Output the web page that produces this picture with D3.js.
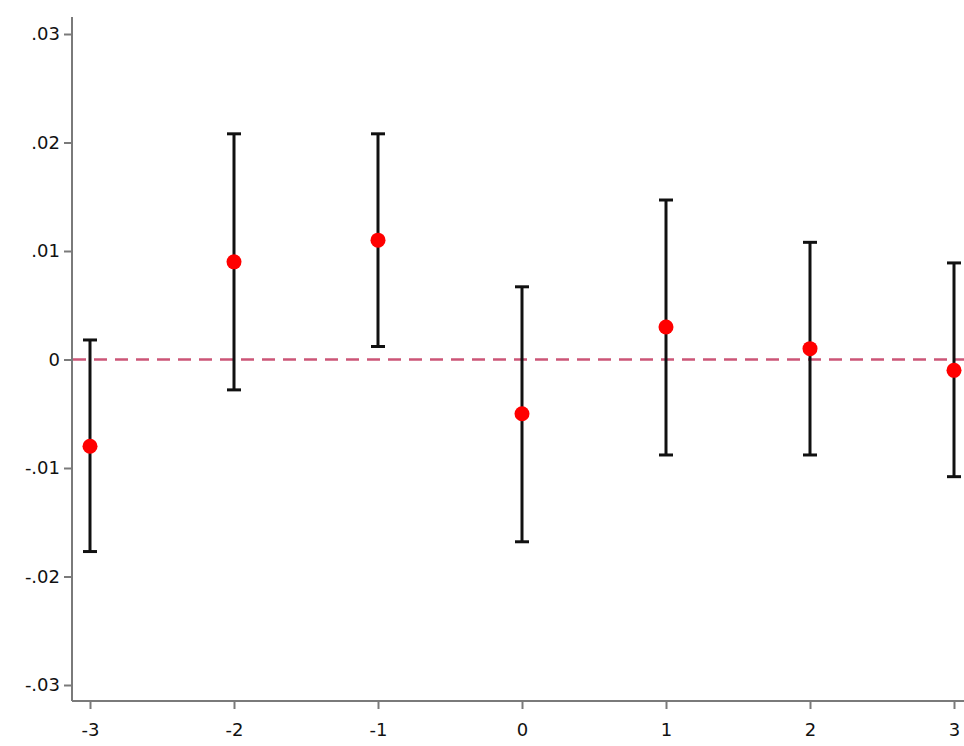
<!DOCTYPE html>
<html lang="en">
<head>
  <meta charset="UTF-8">
  <script src="https://d3js.org/d3.v7.min.js"></script>
  <style>
    body { margin: 0; background: #fff; font-family: Tahoma, "DejaVu Sans", sans-serif; }
  </style>
</head>
<body>
<svg width="964" height="746"></svg>
<script>
  const periods = [-3, -2, -1, 0, 1, 2, 3];
  const estimates = [-0.008, 0.009, 0.011, -0.005, 0.003, 0.001, -0.001];
  const upper = [0.0018, 0.0208, 0.0208, 0.0067, 0.0147, 0.0108, 0.0089];
  const lower = [-0.0177, -0.0028, 0.0012, -0.0168, -0.0088, -0.0088, -0.0108];
  const yTicks = [-0.03, -0.02, -0.01, 0, 0.01, 0.02, 0.03];

  const svg = d3.select("svg");
  const x = d3.scaleLinear().domain([-3, 3]).range([90, 954]);
  const y = d3.scaleLinear().domain([-0.03, 0.03]).range([685, 34]);
  const axisColor = "#7a7a7a";
  const fmt = v => v === 0 ? "0" : v.toFixed(2).replace("0.", ".");

  // axes
  const yAxis = svg.append("g").attr("transform", "translate(72,0)")
    .call(d3.axisLeft(y).tickValues(yTicks).tickFormat(fmt).tickSize(8).tickSizeOuter(0));
  yAxis.select(".domain").attr("d", "M0,17V701");
  const xAxis = svg.append("g").attr("transform", "translate(0,701)")
    .call(d3.axisBottom(x).tickValues(periods).tickFormat(v => String(v)).tickSize(8).tickSizeOuter(0));
  xAxis.select(".domain").attr("d", "M72,0H964");
  svg.selectAll(".domain").attr("stroke", axisColor).attr("stroke-width", 2);
  svg.selectAll(".tick line").attr("stroke", axisColor).attr("stroke-width", 2);
  svg.selectAll(".tick text").attr("fill", "#111").style("font-size", "18px")
    .style("font-family", "Tahoma, 'DejaVu Sans', sans-serif");
  yAxis.selectAll(".tick text").attr("x", -12);
  xAxis.selectAll(".tick text").attr("y", 22);

  // zero line
  svg.append("line")
    .attr("x1", 73).attr("x2", 964).attr("y1", y(0)).attr("y2", y(0))
    .attr("stroke", "#cc5577").attr("stroke-width", 2.5).attr("stroke-dasharray", "13,8");

  const data = periods.map((p, i) => ({p, est: estimates[i], hi: upper[i], lo: lower[i]}));

  const bars = svg.append("g").attr("stroke", "#111").attr("stroke-width", 3);
  bars.selectAll(".v").data(data).join("line")
    .attr("x1", d => x(d.p)).attr("x2", d => x(d.p))
    .attr("y1", d => y(d.hi)).attr("y2", d => y(d.lo));
  bars.selectAll(".hi").data(data).join("line")
    .attr("x1", d => x(d.p) - 7).attr("x2", d => x(d.p) + 7)
    .attr("y1", d => y(d.hi)).attr("y2", d => y(d.hi));
  bars.selectAll(".lo").data(data).join("line")
    .attr("x1", d => x(d.p) - 7).attr("x2", d => x(d.p) + 7)
    .attr("y1", d => y(d.lo)).attr("y2", d => y(d.lo));

  svg.append("g").selectAll("circle").data(data).join("circle")
    .attr("cx", d => x(d.p)).attr("cy", d => y(d.est)).attr("r", 7.5)
    .attr("fill", "#ff0000");
</script>
</body>
</html>
